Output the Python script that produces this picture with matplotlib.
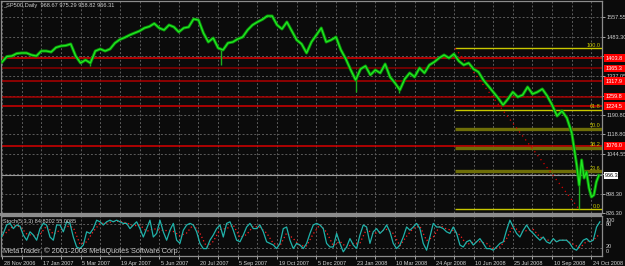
import numpy as np
import matplotlib
matplotlib.use("Agg")
import matplotlib.pyplot as plt
from matplotlib.transforms import blended_transform_factory, ScaledTranslation
from matplotlib.patches import Rectangle

plt.rcParams['font.family'] = ['Liberation Sans', 'DejaVu Sans']

# ---------------- data ----------------
title_text = "_SP500,Daily  968.67 975.29 958.82 966.31"
stoch_text = "Stoch(5,3,3) 84.8202 55.0085"
copyright_text = "MetaTrader, \u00a9 2001-2008 MetaQuotes Software Corp."

price_bars = list(range(0, 468, 4)) + [468, 470, 472, 474, 476, 478, 480, 482, 484, 486]
close = [1389.1, 1409.6, 1411.5, 1420.8, 1422.7, 1422.7, 1415.2, 1411.5, 1430.1, 1430.1,
         1426.4, 1443.2, 1448.8, 1450.6, 1456.2, 1411.5, 1385.4, 1396.6, 1385.4, 1430.1,
         1437.6, 1430.1, 1437.6, 1460.0, 1473.0, 1480.5, 1489.8, 1497.3, 1504.7, 1515.9,
         1521.5, 1532.7, 1515.9, 1508.4, 1527.1, 1519.6, 1500.9, 1515.9, 1519.6, 1549.5,
         1545.7, 1497.3, 1463.7, 1478.6, 1441.3, 1433.9, 1460.0, 1463.7, 1474.9, 1482.3,
         1508.4, 1527.1, 1538.3, 1547.6, 1560.6, 1560.6, 1527.1, 1512.2, 1538.3, 1504.7,
         1471.2, 1456.2, 1422.7, 1463.7, 1489.8, 1515.9, 1463.7, 1471.2, 1482.3, 1433.9,
         1400.3, 1359.3, 1321.9, 1362.9, 1374.2, 1340.6, 1359.3, 1348.1, 1381.6, 1333.2,
         1310.8, 1284.7, 1325.7, 1348.1, 1333.2, 1366.8, 1348.1, 1377.9, 1389.1, 1404.0,
         1415.2, 1404.0, 1418.9, 1392.8, 1377.9, 1385.4, 1362.9, 1351.8, 1321.9, 1299.6,
         1277.2, 1254.9, 1228.8, 1251.1, 1277.2, 1258.6, 1266.1, 1295.9, 1269.8, 1277.2,
         1288.4, 1262.3, 1228.8, 1187.7, 1206.4, 1180.3, 1124.3,
         1005.0, 930.0, 1023.7, 956.5, 979.0, 919.3, 885.7, 893.2, 941.8, 966.3]

spike_bars = [72, 178, 288, 323, 470]
spike_lows = [1374.0, 1378.0, 1278.0, 1273.0, 839.8]
spike_highs = [1400.0, 1440.0, 1330.0, 1300.0, 930.0]

date_labels = ['28 Nov 2006', '17 Jan 2007', '5 Mar 2007', '19 Apr 2007', '5 Jun 2007',
               '20 Jul 2007', '5 Sep 2007', '19 Oct 2007', '5 Dec 2007', '23 Jan 2008',
               '10 Mar 2008', '24 Apr 2008', '10 Jun 2008', '25 Jul 2008', '10 Sep 2008',
               '24 Oct 2008']
date_label_bars = list(range(0, 481, 32))

grid_levels = [1557.55, 1483.30, 1410.2, 1337.05, 1264.05, 1190.80, 1118.80,
               1044.55, 971.4, 898.30, 826.30]
grid_labels = ['1557.55', '1483.30', '', '1337.05', '', '1190.80', '1118.80',
               '1044.55', '', '898.30', '826.30']

red_levels = [1403.80, 1365.30, 1317.90, 1259.80, 1224.50, 1076.00]
red_colors = ['#e00000', '#8a0000', '#b00000', '#a80000', '#d40000', '#d80000']

last_price = 966.31

fib_start_bar, fib_end_bar = 369, 470
fib_high, fib_low = 1440.2, 839.8
fib_pcts = [100.0, 61.8, 50.0, 38.2, 23.6, 0.0]
fib_colors = ['#c8c800', '#c8c800', '#6e6e08', '#6e6e08', '#6e6e08', '#c8c800']
fib_widths = [1.0, 1.0, 2.4, 2.4, 2.4, 1.0]

stoch_k = [43, 56, 77, 81, 68, 77, 74, 52, 39, 60, 52, 39, 68, 81, 77, 47, 39, 77, 77, 60,
           85, 81, 47, 22, 18, 27, 60, 56, 68, 89, 85, 77, 85, 89, 85, 89, 85, 81, 81, 68,
           77, 85, 68, 47, 68, 89, 47, 56, 89, 60, 39, 64, 81, 39, 31, 64, 77, 81, 77, 60,
           31, 18, 18, 39, 52, 68, 77, 47, 81, 85, 64, 39, 35, 52, 72, 81, 68, 68, 77, 60,
           35, 31, 27, 18, 31, 68, 72, 39, 18, 31, 27, 18, 31, 56, 77, 81, 77, 68, 31, 22,
           22, 56, 31, 10, 22, 43, 27, 18, 52, 77, 72, 31, 60, 68, 56, 64, 77, 60, 31, 18,
           27, 47, 72, 64, 72, 81, 68, 31, 14, 47, 81, 72, 72, 68, 60, 56, 72, 56, 27, 22,
           35, 39, 27, 35, 43, 31, 18, 18, 14, 22, 31, 35, 64, 89, 72, 56, 47, 64, 77, 64,
           56, 47, 39, 47, 35, 31, 43, 35, 39, 39, 39, 31, 18, 14, 27, 39, 43, 35, 39, 72,
           85]
stoch_d = [45, 59, 75, 73, 55, 50, 53, 75, 54, 64, 74, 71, 29, 35, 61, 81, 82, 86, 86, 82,
           75, 77, 61, 68, 64, 63, 61, 50, 57, 78, 56, 22, 36, 66, 68, 77, 46, 53, 74, 71,
           57, 31, 25, 57, 43, 25, 25, 55, 78, 59, 25, 36, 21, 31, 32, 67, 54, 61, 66, 56,
           25, 49, 69, 74, 38, 47, 75, 67, 63, 52, 28, 34, 35, 31, 17, 22, 43, 75, 58, 63,
           66, 47, 40, 36, 39, 39, 29, 20, 36, 39, 55]
stoch_levels = [80, 20]
stoch_x0, stoch_step = -1.63, 2.714   # sample positions in bars

# ---------------- layout / style ----------------
W, H = 625, 266
BG = '#0b0b0b'
GRID = '#5c5c5c'
FRAME = '#8c8c8c'
TXT = '#d2d2d2'
FS = 4.0
PXB = 1.228      # pixels per bar
X0 = 2.0         # pixel of bar 0
PPP = 3.729      # price units per pixel


def fx(px):
    return px / W


def fy(py):
    return 1 - py / H


def px_to_bar(px):
    return (px - X0) / PXB


fig = plt.figure(figsize=(W / 100, H / 100), dpi=100, facecolor=BG)

# main price panel
ax = fig.add_axes([fx(1), fy(213), fx(602) - fx(1), fy(1) - fy(213)])
ax.set_facecolor(BG)
xl = (px_to_bar(1), px_to_bar(602))
ax.set_xlim(*xl)
ax.set_ylim(826.0, 1616.6)

for s in ax.spines.values():
    s.set_color(FRAME)
    s.set_linewidth(0.9)

ax.yaxis.tick_right()
ax.set_yticks(grid_levels)
ax.set_yticklabels(grid_labels)
ax.tick_params(axis='y', colors='#c0c0c0', labelcolor=TXT, labelsize=FS, length=2.0, width=0.6, pad=1.0)
ax.set_xticks(np.arange(0, 490, 16))
ax.tick_params(axis='x', length=0, labelbottom=False)
ax.grid(True, color=GRID, linestyle=(0, (2, 2)), linewidth=0.7)
ax.set_axisbelow(True)

trans_r = blended_transform_factory(ax.transAxes, ax.transData)
trans_f = blended_transform_factory(fig.transFigure, ax.transData)

# red horizontal levels
for lvl, c in zip(red_levels, red_colors):
    ax.axhline(lvl, color=c, lw=1.1, zorder=2)
# current price line
ax.axhline(last_price, color='#9a9a9a', lw=0.8, zorder=2)

# fibonacci retracement
for pct, c, lw in zip(fib_pcts, fib_colors, fib_widths):
    lvl = fib_low + pct / 100.0 * (fib_high - fib_low)
    ax.hlines(lvl, fib_start_bar, xl[1], color=c, lw=lw, zorder=3)
    ax.text(0.997, lvl + 0.6 * PPP, f'{pct:.1f}', transform=trans_r, ha='right', va='bottom',
            fontsize=FS, color='#c8c800', zorder=6)
ax.plot([fib_start_bar, fib_end_bar], [fib_high, fib_low], color='#e00000',
        lw=0.9, linestyle=(0, (1, 3)), zorder=3)

# price
ax.vlines(spike_bars, spike_lows, spike_highs, color='#1eb01e', lw=1.0, zorder=4)
ax.plot(price_bars, close, color='#0a900a', lw=2.2, zorder=4, solid_joinstyle='round')
ax.plot(price_bars, close, color='#22ea22', lw=0.9, zorder=5)

# price-axis boxes (cut by the window edge, as in the reference)
for lvl in red_levels:
    r = Rectangle((fx(603.5), lvl - 3.8 * PPP), 1 - fx(603.5), 7.6 * PPP, transform=trans_f,
                  facecolor='#ff0000', edgecolor='none', clip_on=False, zorder=9)
    ax.add_artist(r)
    ax.text(fx(605.5), lvl, f'{lvl:.1f}', transform=trans_f, ha='left', va='center',
            fontsize=FS, color='white', clip_on=False, zorder=10)
r = Rectangle((fx(603.5), last_price - 3.8 * PPP), fx(618) - fx(603.5), 7.6 * PPP,
              transform=trans_f, facecolor='white', edgecolor='none', clip_on=False, zorder=9)
ax.add_artist(r)
ax.text(fx(604.5), last_price, f'{last_price:.2f}', transform=trans_f, ha='left', va='center',
        fontsize=FS, color='black', clip_on=False, zorder=10)

fig.text(fx(3), fy(6), title_text, color=TXT, fontsize=4.1, ha='left', va='center')

# separator band
fig.patches.append(Rectangle((0, fy(216)), fx(602), fy(213) - fy(216), transform=fig.transFigure,
                             facecolor=FRAME, edgecolor='none', zorder=0))

# stochastic panel
ax2 = fig.add_axes([fx(1), fy(255.8), fx(602) - fx(1), fy(215.8) - fy(255.8)])
ax2.set_facecolor(BG)
ax2.set_xlim(*xl)
ax2.set_ylim(0, 100)
for s in ax2.spines.values():
    s.set_color(FRAME)
    s.set_linewidth(0.9)
ax2.set_yticks([])
ax2.set_xticks(date_label_bars)
ax2.set_xticklabels(date_labels)
ax2.set_xticks(np.arange(16, 490, 32), minor=True)
ax2.tick_params(axis='x', which='both', colors='#c0c0c0', labelcolor=TXT, labelsize=FS,
                length=2, width=0.6, pad=1.5)
ax2.grid(True, which='both', axis='x', color=GRID, linestyle=(0, (2, 2)), linewidth=0.7)
ax2.set_axisbelow(True)
off = ScaledTranslation(1.5 / 100, 0, fig.dpi_scale_trans)
for lab in ax2.get_xticklabels():
    lab.set_horizontalalignment('left')
    lab.set_transform(lab.get_transform() + off)

for lv in stoch_levels:
    ax2.axhline(lv, color=GRID, linestyle=(0, (2, 2)), lw=0.7)

sk_x = stoch_x0 + stoch_step * np.arange(len(stoch_k))
sd_x = stoch_x0 + 2 * stoch_step * np.arange(len(stoch_d))
ax2.plot(sk_x, stoch_k, color='#20b2aa', lw=0.9, zorder=4)
ax2.plot(sd_x, stoch_d, color='#ff2020', lw=0.9, linestyle=(0, (1, 2)), zorder=3)

fig.text(fx(3), fy(221), stoch_text, color=TXT, fontsize=FS, ha='left', va='center')
fig.text(fx(3), fy(251), copyright_text, color='#c8c8c8', fontsize=5.3, ha='left', va='center')
for lab, py in zip(['100', '80', '20', '0'], [220, 224.5, 246.5, 251.5]):
    fig.text(fx(606), fy(py), lab, color=TXT, fontsize=FS, ha='left', va='center')

fig.savefig('out.png', dpi=100, facecolor=BG)
